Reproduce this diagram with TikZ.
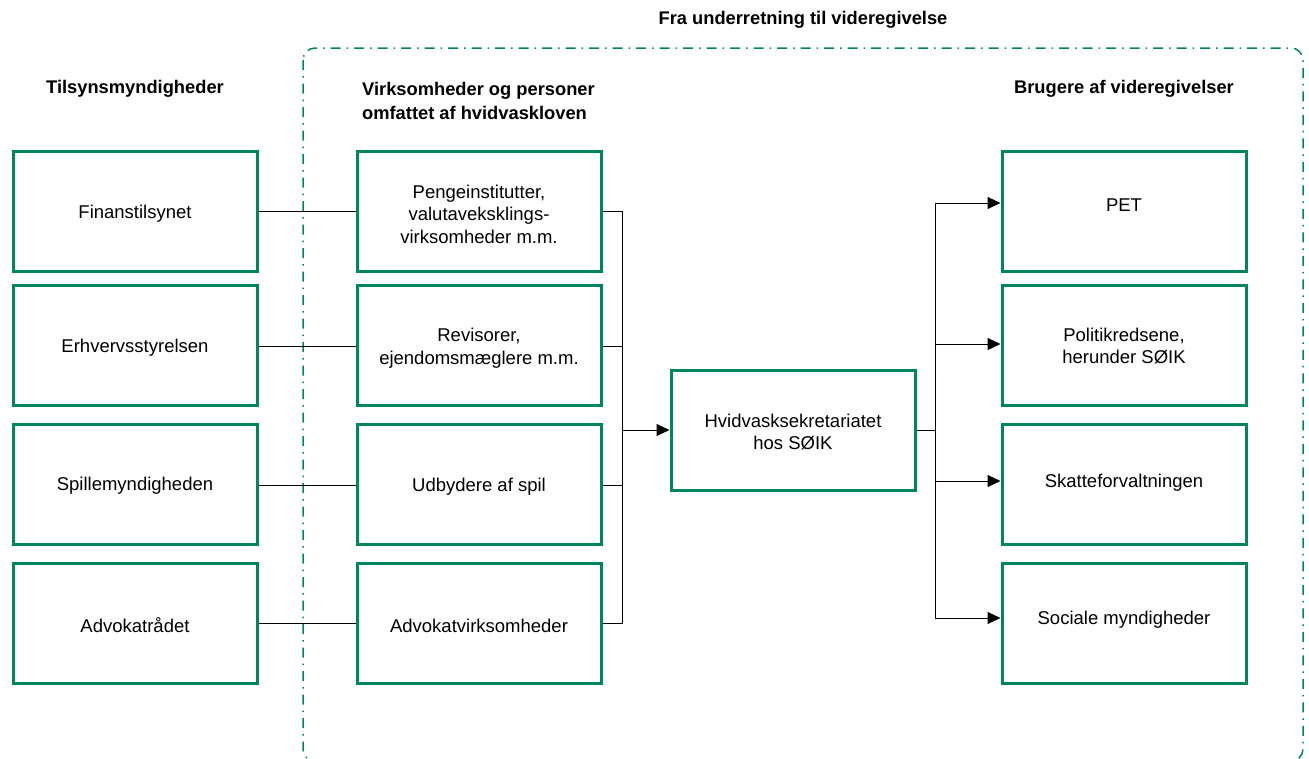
\documentclass[tikz,border=0pt]{standalone}
\usepackage{fontspec}
\setmainfont{Liberation Sans}
\usetikzlibrary{arrows.meta}
\definecolor{dgreen}{HTML}{00855F}
\tikzset{
  box/.style={draw=dgreen, line width=3pt, minimum width=244pt, minimum height=120pt, inner sep=0pt},
  txt/.style={align=center, font=\fontsize{18.5}{22.5}\selectfont, inner sep=0pt, yshift=-2pt},
  hdr/.style={font=\bfseries\fontsize{18.3}{24}\selectfont, inner sep=0pt},
  conn/.style={draw=black, line width=1pt},
  arr/.style={conn, -{Triangle[length=13pt,width=12pt]}},
  frame/.style={draw=dgreen, line width=1.5pt, rounded corners=12pt, dash pattern=on 10pt off 6pt on 1.5pt off 6pt}
}
\begin{document}
\begin{tikzpicture}[x=1pt,y=-1pt]
\useasboundingbox (0,0) rectangle (1309,758);
% frame
\begin{scope}
\clip (0,0) rectangle (1309,758);
\draw[frame] (303,48) rectangle (1303,761);
\end{scope}
% headers
\node[hdr] (h0) at (803,20) {Fra underretning til videregivelse};
\node[hdr] (h1) at (135,89) {Tilsynsmyndigheder};
\node[hdr, align=left, anchor=west] (h2) at (362,101) {Virksomheder og personer\\omfattet af hvidvaskloven};
\node[hdr] (h3) at (1124,89) {Brugere af videregivelser};
% left boxes
\node[box] (l1) at (135,211) {};
\node[box] (l2) at (135,345.5) {};
\node[box] (l3) at (135,484.5) {};
\node[box] (l4) at (135,623.5) {};
\node[txt] at (135,212) {Finanstilsynet};
\node[txt] at (135,346) {Erhvervsstyrelsen};
\node[txt] at (135,484) {Spillemyndigheden};
\node[txt] at (135,623) {Advokatrådet};
% middle boxes
\node[box] (m1) at (479,211) {};
\node[box] (m2) at (479,345.5) {};
\node[box] (m3) at (479,484.5) {};
\node[box] (m4) at (479,623.5) {};
\node[txt] at (479,212) {Pengeinstitutter,\\valutaveksklings-\\virksomheder m.m.};
\node[txt] at (479,346) {Revisorer,\\ejendomsmæglere m.m.};
\node[txt] at (479,485) {Udbydere af spil};
\node[txt] at (479,624) {Advokatvirksomheder};
% center box
\node[box] (c) at (793,430) {};
\node[txt] at (793,430) {Hvidvasksekretariatet\\hos SØIK};
% right boxes
\node[box] (r1) at (1124,211) {};
\node[box] (r2) at (1124,345.5) {};
\node[box] (r3) at (1124,484.5) {};
\node[box] (r4) at (1124,623.5) {};
\node[txt] at (1124,203) {PET};
\node[txt] at (1124,344) {Politikredsene,\\herunder SØIK};
\node[txt] at (1124,481) {Skatteforvaltningen};
\node[txt] at (1124,618) {Sociale myndigheder};
% left-to-middle connectors
\draw[conn] (l1.east |- 0,211) -- (m1.west |- 0,211);
\draw[conn] (l2.east |- 0,346) -- (m2.west |- 0,346);
\draw[conn] (l3.east |- 0,485) -- (m3.west |- 0,485);
\draw[conn] (l4.east |- 0,623) -- (m4.west |- 0,623);
% middle to center
\coordinate (jm) at (622,430);
\draw[conn] (m1.east |- 0,211) -- (622,211) -- (622,623) -- (m4.east |- 0,623);
\draw[conn] (m2.east |- 0,346) -- (622,346);
\draw[conn] (m3.east |- 0,485) -- (622,485);
\draw[arr] (jm) -- (c.west |- jm);
% center to right
\coordinate (jr) at (935,430);
\draw[conn] (c.east |- jr) -- (jr);
\draw[conn] (935,203) -- (935,618);
\draw[arr] (935,203) -- (r1.west |- 0,203);
\draw[arr] (935,344) -- (r2.west |- 0,344);
\draw[arr] (935,481) -- (r3.west |- 0,481);
\draw[arr] (935,618) -- (r4.west |- 0,618);
\end{tikzpicture}
\end{document}
